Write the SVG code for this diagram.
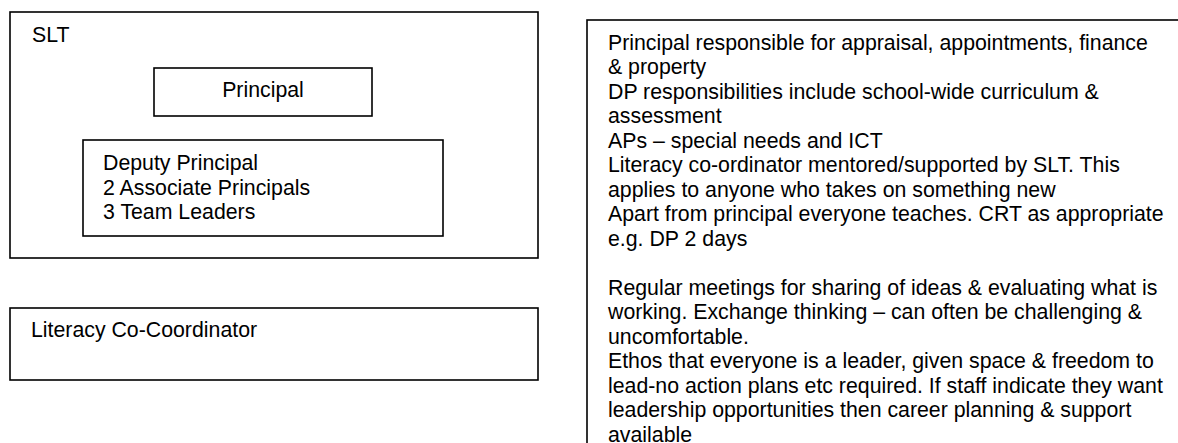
<svg xmlns="http://www.w3.org/2000/svg" width="1178" height="443" viewBox="0 0 1178 443">
<style>
.box{fill:#fff;stroke:#000;stroke-width:1.6}
text{font-family:"Liberation Sans",Arial,sans-serif;font-size:21.3px;fill:#000}
</style>
<rect width="1178" height="443" fill="#fff"/>
<g id="slt">
<rect class="box" x="10" y="12" width="528" height="246"/>
<text x="32" y="42">SLT</text>
</g>
<g id="principal">
<rect class="box" x="154" y="68" width="218" height="48"/>
<text x="263" y="97" text-anchor="middle">Principal</text>
</g>
<g id="deputy">
<rect class="box" x="83" y="140" width="360" height="96"/>
<text x="103" y="170">Deputy Principal</text>
<text x="103" y="194.5">2 Associate Principals</text>
<text x="103" y="219">3 Team Leaders</text>
</g>
<g id="literacy">
<rect class="box" x="10" y="308" width="528" height="72"/>
<text x="31" y="337">Literacy Co-Coordinator</text>
</g>
<g id="notes">
<rect class="box" x="587" y="20" width="620" height="440"/>
<text x="608" y="49.5">Principal responsible for appraisal, appointments, finance</text>
<text x="608" y="74">&amp; property</text>
<text x="608" y="98.5">DP responsibilities include school-wide curriculum &amp;</text>
<text x="608" y="123">assessment</text>
<text x="608" y="147.5">APs – special needs and ICT</text>
<text x="608" y="172">Literacy co-ordinator mentored/supported by SLT. This</text>
<text x="608" y="196.5">applies to anyone who takes on something new</text>
<text x="608" y="221">Apart from principal everyone teaches. CRT as appropriate</text>
<text x="608" y="245.5">e.g. DP 2 days</text>
<text x="608" y="294.5">Regular meetings for sharing of ideas &amp; evaluating what is</text>
<text x="608" y="319">working. Exchange thinking – can often be challenging &amp;</text>
<text x="608" y="343.5">uncomfortable.</text>
<text x="608" y="368">Ethos that everyone is a leader, given space &amp; freedom to</text>
<text x="608" y="392.5">lead-no action plans etc required. If staff indicate they want</text>
<text x="608" y="417">leadership opportunities then career planning &amp; support</text>
<text x="608" y="441.5">available</text>
</g>
<g id="connectors"></g>
</svg>
